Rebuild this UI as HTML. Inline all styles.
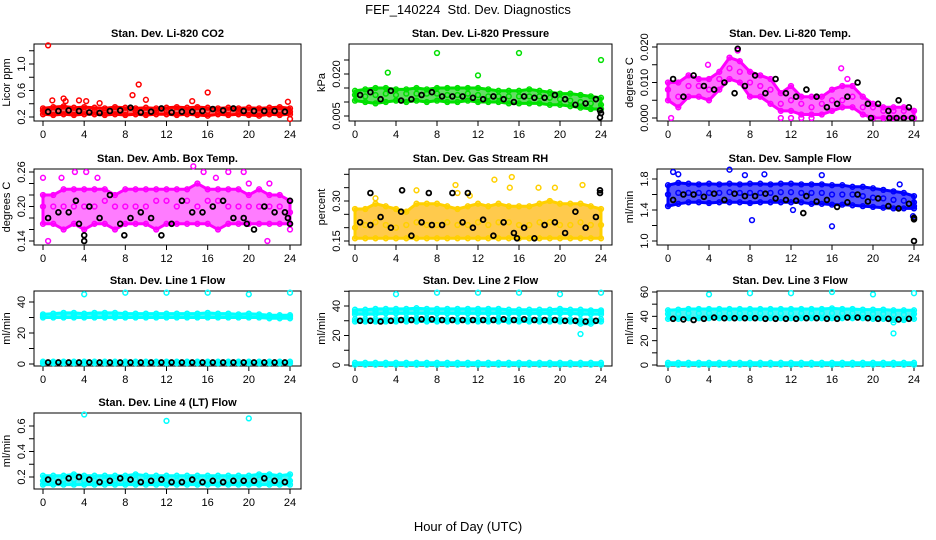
<!DOCTYPE html>
<html><head><meta charset="utf-8">
<style>
html,body{margin:0;padding:0;background:#fff;}
svg{display:block;font-family:"Liberation Sans",sans-serif;}
</style></head>
<body>
<svg id="chart" width="936" height="540" viewBox="0 0 936 540" xmlns="http://www.w3.org/2000/svg">
<rect width="936" height="540" fill="#fff"/>
<text x="468" y="14" text-anchor="middle" font-size="13" xml:space="preserve">FEF_140224  Std. Dev. Diagnostics</text>
<text x="468" y="531" text-anchor="middle" font-size="13">Hour of Day (UTC)</text>
</svg>
<script>
const hours=[0,1,2,3,4,5,6,7,8,9,10,11,12,13,14,15,16,17,18,19,20,21,22,23,24];
const blackHours=[0.5,1.5,2.5,3.5,4.5,5.5,6.5,7.5,8.5,9.5,10.5,11.5,12.5,13.5,14.5,15.5,16.5,17.5,18.5,19.5,20.5,21.5,22.5,23.5];
const xTicks=[0,4,8,12,16,20,24];

const co2Lo=[0.24,0.23,0.24,0.23,0.24,0.24,0.23,0.24,0.23,0.24,0.23,0.24,0.24,0.23,0.24,0.23,0.22,0.24,0.23,0.24,0.23,0.22,0.24,0.23,0.24];
const co2Mid=[0.29,0.28,0.30,0.29,0.28,0.29,0.30,0.29,0.28,0.29,0.28,0.29,0.30,0.29,0.28,0.29,0.29,0.28,0.29,0.28,0.29,0.28,0.29,0.30,0.28];
const co2Hi=[0.33,0.35,0.36,0.34,0.35,0.34,0.33,0.35,0.34,0.33,0.34,0.33,0.34,0.35,0.34,0.35,0.34,0.33,0.34,0.33,0.34,0.33,0.34,0.35,0.33];
const co2Black=[0.28,0.29,0.30,0.29,0.27,0.26,0.29,0.30,0.34,0.27,0.28,0.33,0.27,0.28,0.28,0.29,0.32,0.30,0.33,0.29,0.29,0.29,0.29,0.28];
const co2OutX=[0.5,0.9,2,2.2,3.5,4.2,5.5,8.7,9.3,10,14.5,16,23.8,24];
const co2OutY=[1.28,0.45,0.48,0.44,0.45,0.44,0.41,0.53,0.69,0.46,0.44,0.57,0.43,0.17];

const presLo=[0.0105,0.010,0.0095,0.010,0.0105,0.010,0.0105,0.010,0.0105,0.010,0.010,0.0105,0.010,0.010,0.010,0.0095,0.0095,0.0095,0.0095,0.009,0.009,0.0085,0.008,0.0075,0.0075];
const presMid=[0.0125,0.012,0.0125,0.013,0.0125,0.013,0.013,0.013,0.013,0.0125,0.0125,0.013,0.0125,0.012,0.012,0.012,0.012,0.012,0.012,0.0115,0.011,0.0105,0.010,0.0095,0.009];
const presHi=[0.014,0.0145,0.015,0.015,0.0145,0.0145,0.015,0.0145,0.015,0.015,0.015,0.015,0.015,0.0145,0.014,0.014,0.014,0.0145,0.014,0.0135,0.013,0.013,0.0125,0.012,0.0115];
const presBlack=[0.0125,0.0135,0.011,0.014,0.0105,0.011,0.0125,0.0135,0.012,0.012,0.012,0.0115,0.011,0.012,0.011,0.010,0.012,0.0115,0.0115,0.0125,0.011,0.009,0.0095,0.011];
const presOutX=[3.2,8,12,16,24];
const presOutY=[0.0205,0.0275,0.0195,0.0275,0.025];
const presBkOutX=[23.9,23.9,24];
const presBkOutY=[0.0045,0.007,0.006];

const ltLo=[0.005,0.003,0.006,0.006,0.005,0.008,0.011,0.010,0.006,0.006,0.004,0.002,0.002,0.001,0.001,0.001,0.002,0.003,0.003,0.001,0.000,0.000,0.000,0.000,0.000];
const ltMid=[0.008,0.006,0.009,0.009,0.008,0.011,0.014,0.013,0.010,0.009,0.008,0.004,0.005,0.004,0.003,0.004,0.005,0.005,0.006,0.003,0.003,0.002,0.002,0.002,0.002];
const ltHi=[0.010,0.010,0.012,0.011,0.011,0.013,0.017,0.016,0.013,0.012,0.011,0.007,0.009,0.006,0.006,0.006,0.008,0.009,0.009,0.006,0.004,0.003,0.003,0.003,0.002];
const ltBlack=[0.011,0.006,0.012,0.009,0.008,0.010,0.007,0.009,0.012,0.007,0.011,0.007,0.006,0.008,0.006,0.003,0.004,0.006,0.010,0.004,0.004,0.002,0.005,0.003];
const ltOutX=[0.3,3.9,6.8,11,12,13,14,16.9,17.5,20,21];
const ltOutY=[0,0.015,0.019,0,0,0,0,0.014,0.011,0,0];
const ltBkOutX=[19.8,21.6,22.3,23,23.8,6.8];
const ltBkOutY=[0,0,0,0,0,0.0195];

const amLo=[0.17,0.17,0.16,0.17,0.16,0.17,0.17,0.16,0.17,0.17,0.17,0.16,0.17,0.17,0.17,0.17,0.17,0.16,0.17,0.17,0.17,0.17,0.17,0.17,0.17];
const amMid=[0.20,0.20,0.20,0.20,0.20,0.20,0.21,0.20,0.20,0.20,0.20,0.21,0.21,0.20,0.21,0.20,0.21,0.21,0.20,0.20,0.20,0.20,0.20,0.20,0.19];
const amHi=[0.22,0.22,0.23,0.23,0.23,0.23,0.23,0.22,0.23,0.23,0.23,0.23,0.23,0.23,0.23,0.24,0.23,0.23,0.23,0.23,0.22,0.23,0.22,0.22,0.21];
const amBlack=[0.18,0.19,0.19,0.17,0.20,0.18,0.22,0.17,0.18,0.19,0.18,0.15,0.17,0.21,0.19,0.19,0.20,0.21,0.18,0.18,0.16,0.20,0.19,0.19];
const amOutX=[0,0.5,1.8,3.1,4.2,5.3,14.6,15.6,16.8,18,19.5,20,21.8,22,24];
const amOutY=[0.25,0.14,0.25,0.26,0.26,0.25,0.27,0.26,0.25,0.26,0.26,0.24,0.14,0.24,0.16];
const amBkOutX=[4,4,3.2,7.9,19.8,24,23.8,24];
const amBkOutY=[0.14,0.15,0.21,0.15,0.17,0.21,0.18,0.17];

const rhLo=[0.16,0.16,0.16,0.16,0.16,0.16,0.16,0.16,0.16,0.16,0.16,0.16,0.16,0.16,0.16,0.16,0.16,0.16,0.16,0.16,0.16,0.16,0.16,0.16,0.16];
const rhMid=[0.20,0.21,0.22,0.21,0.20,0.21,0.22,0.21,0.21,0.22,0.21,0.21,0.22,0.21,0.22,0.22,0.21,0.21,0.22,0.22,0.21,0.21,0.22,0.21,0.21];
const rhHi=[0.27,0.27,0.29,0.28,0.27,0.26,0.29,0.29,0.29,0.28,0.27,0.28,0.29,0.28,0.29,0.28,0.28,0.28,0.29,0.30,0.29,0.29,0.29,0.28,0.27];
const rhBlack=[0.22,0.21,0.24,0.20,0.26,0.17,0.22,0.21,0.21,0.33,0.22,0.20,0.23,0.17,0.22,0.18,0.20,0.16,0.21,0.22,0.18,0.26,0.20,0.24];
const rhOutX=[2,6,9.8,13.6,15.3,15.1,17.9,19.5,22.2,10,11.2];
const rhOutY=[0.31,0.34,0.36,0.38,0.39,0.35,0.35,0.35,0.36,0.33,0.32];
const rhBkOutX=[1.5,4.6,7.2,11,23.9,23.9,15.8];
const rhBkOutY=[0.33,0.34,0.33,0.33,0.34,0.33,0.16];

const sfLo=[1.45,1.48,1.50,1.50,1.49,1.50,1.50,1.50,1.49,1.50,1.50,1.50,1.50,1.50,1.48,1.48,1.47,1.47,1.46,1.45,1.44,1.43,1.42,1.42,1.42];
const sfMid=[1.60,1.62,1.62,1.62,1.62,1.62,1.63,1.62,1.62,1.62,1.62,1.63,1.63,1.62,1.62,1.62,1.60,1.60,1.60,1.58,1.56,1.55,1.53,1.52,1.50];
const sfHi=[1.72,1.75,1.74,1.73,1.74,1.73,1.74,1.73,1.74,1.74,1.73,1.74,1.74,1.73,1.73,1.73,1.72,1.72,1.70,1.70,1.68,1.66,1.64,1.62,1.58];
const sfBlack=[1.53,1.60,1.60,1.57,1.61,1.53,1.61,1.58,1.58,1.61,1.55,1.53,1.52,1.58,1.51,1.53,1.44,1.50,1.60,1.51,1.55,1.45,1.42,1.48];
const sfOutX=[0.5,1,6,7.5,8.2,9.4,12.2,15,16,22.6,24,23.9];
const sfOutY=[1.89,1.86,1.92,1.85,1.27,1.86,1.40,1.85,1.19,1.73,1.45,1.32];
const sfBkOutX=[24,24,24,13.2];
const sfBkOutY=[1.28,1.30,1.0,1.36];

const l1Lo=[30,30,30,30,30,30,30,30,30,30,30,30,30,30,30,30,30,30,30,30,30,30,29.5,29.5,29.5];
const l1Mid=[31,31,31.5,31.5,31,31.5,31.5,31.5,31,31,31,31,31,31,31,31,31,31,31,31,31,31,30.5,30.5,30.5];
const l1Hi=[32,32.5,33,33,32.5,33,33,33,32.5,32.5,32.5,32.5,32.5,32.5,32.5,32.5,33,32.5,32.5,32,32.5,32,31.5,31.5,31.5];
const l1BaseLo=[0.5,0.5,0.5,0.5,0.5,0.5,0.5,0.5,0.5,0.5,0.5,0.5,0.5,0.5,0.5,0.5,0.5,0.5,0.5,0.5,0.5,0.5,0.5,0.5,0.5];
const l1BaseHi=[1.5,1.5,1.5,1.5,1.5,1.5,1.5,1.5,1.5,1.5,1.5,1.5,1.5,1.5,1.5,1.5,1.5,1.5,1.5,1.5,1.5,1.5,1.5,1.5,1.5];
const l1Black=[1,1,1,1,1,1,1,1,1,1,1,1,1,1,1,1,1,1,1,1,1,1,1,1];
const l1OutX=[4,8,12,16,20,24];
const l1OutY=[45,46,46,46,45,46];

const l2Lo=[34.5,34.5,34.5,35,35,35,35,35,35,35,35,35,35,35,35,35,35,35,35,35,35,35,34.5,34.5,34.5];
const l2Mid=[36,36,36.5,36.5,36.5,36.5,37,36.5,36.5,36.5,36.5,36.5,36.5,36.5,36.5,36,36,36,36,36,36,36,36,36,36];
const l2Hi=[37.5,37.5,38,38,38,38,38.5,38,38,38,38,38,38,38,38,37.5,37.5,37.5,37.5,37.5,38,37.5,37.5,37,37];
const l2MidLo=[29.5,29.5,29.5,29.5,29.5,29.5,29.5,29.5,29.5,29.5,29.5,29.5,29.5,29.5,29.5,29.5,29.5,29.5,29.5,29.5,29.5,29.5,28,28,29.5];
const l2MidHi=[31,31,31,31,31,31.5,31.5,31.5,31,31,31,31,31,31,31.5,31,31,31,31,31,31,31,30.5,30.5,31];
const l2BaseLo=[0.3,0.3,0.3,0.3,0.3,0.3,0.3,0.3,0.3,0.3,0.3,0.3,0.3,0.3,0.3,0.3,0.3,0.3,0.3,0.3,0.3,0.3,0.3,0.3,0.3];
const l2BaseHi=[1.5,1.5,1.5,1.5,1.5,1.5,1.5,1.5,1.5,1.5,1.5,1.5,1.5,1.5,1.5,1.5,1.5,1.5,1.5,1.5,1.5,1.5,1.5,1.5,1.5];
const l2Black=[30,30,29.5,30,30.5,30.5,31,31,30.5,30.5,30.5,30.5,30.5,30.5,31,30.5,31,30.5,30.5,30.5,30,30,29.5,30];
const l2OutX=[4,8,12,16,20,24,22];
const l2OutY=[48,49,49,49,48,49,21];

const l3Lo=[38,38,38.5,38.5,38.5,38.5,38.5,38.5,38.5,38.5,38.5,38.5,38.5,38.5,38.5,38.5,38.5,38.5,38.5,38.5,38,38,37,37,38];
const l3Mid=[42,42,42.5,42.5,42.5,42.5,42.5,42.5,42.5,42.5,42.5,42.5,42.5,42.5,42.5,42.5,42.5,42.5,42.5,42,42,42,41.5,41.5,42];
const l3Hi=[45,45.5,46,46,46,46,46,46,46,46,46,46,46,46,46,46,46.5,46,46,45.5,45.5,45.5,45,45,45];
const l3BaseLo=[0.3,0.3,0.3,0.3,0.3,0.3,0.3,0.3,0.3,0.3,0.3,0.3,0.3,0.3,0.3,0.3,0.3,0.3,0.3,0.3,0.3,0.3,0.3,0.3,0.3];
const l3BaseHi=[1.8,1.8,1.8,1.8,1.8,1.8,1.8,1.8,1.8,1.8,1.8,1.8,1.8,1.8,1.8,1.8,1.8,1.8,1.8,1.8,1.8,1.8,1.8,1.8,1.8];
const l3Black=[38,37.5,37,38,39,38.5,38.5,38.5,38.5,38,38,38,38,38.5,38.5,38,38,39,39,38.5,38,38,37.5,38];
const l3OutX=[4,8,12,16,20,24,22,22];
const l3OutY=[58,59,59,60,58,59,26,35];

const l4Lo=[0.14,0.14,0.14,0.14,0.14,0.14,0.14,0.14,0.14,0.14,0.14,0.14,0.14,0.14,0.14,0.14,0.14,0.14,0.14,0.14,0.14,0.14,0.14,0.14,0.14];
const l4Mid=[0.17,0.17,0.18,0.18,0.17,0.17,0.18,0.17,0.17,0.18,0.17,0.17,0.17,0.17,0.17,0.17,0.17,0.17,0.17,0.17,0.17,0.18,0.18,0.17,0.17];
const l4Hi=[0.21,0.21,0.21,0.22,0.21,0.21,0.21,0.21,0.21,0.22,0.21,0.21,0.21,0.21,0.21,0.21,0.21,0.21,0.21,0.21,0.21,0.22,0.22,0.21,0.22];
const l4Black=[0.18,0.16,0.19,0.20,0.18,0.16,0.17,0.19,0.18,0.16,0.17,0.18,0.16,0.16,0.18,0.16,0.17,0.16,0.17,0.17,0.17,0.19,0.17,0.16];
const l4OutX=[4,12,20];
const l4OutY=[0.69,0.64,0.66];

const cols=[{l:34,r:301,x0:43,x24:290},{l:349,r:612,x0:355,x24:601},{l:657,r:923,x0:668,x24:914}];
const rows=[{t:44,b:121},{t:169,b:245},{t:291,b:366},{t:413,b:489}];

const panels=[
 {id:'co2',title:'Stan. Dev. Li-820 CO2',ylab:'Licor ppm',c:0,r:0,ref:[0.2,117,1.0,64],ticks:[0.2,0.4,0.6,0.8,1.0,1.2],labs:['0.2','0.6','1.0'],color:'#ff0000',fill:'#ff2020',bands:[[co2Lo,co2Mid,co2Hi]],black:co2Black,ox:co2OutX,oy:co2OutY},
 {id:'pressure',title:'Stan. Dev. Li-820 Pressure',ylab:'kPa',c:1,r:0,ref:[0.005,116,0.020,74],ticks:[0.005,0.010,0.015,0.020,0.025],labs:['0.005','0.020'],color:'#00e000',fill:'#22d022',bands:[[presLo,presMid,presHi]],black:presBlack,ox:presOutX,oy:presOutY,bx:presBkOutX,by:presBkOutY},
 {id:'li-temp',title:'Stan. Dev. Li-820 Temp.',ylab:'degrees C',c:2,r:0,ref:[0,118,0.020,47],ticks:[0,0.005,0.010,0.015,0.020],labs:['0.000','0.010','0.020'],color:'#ff00ff',fill:'#ff33ff',bands:[[ltLo,ltMid,ltHi]],black:ltBlack,ox:ltOutX,oy:ltOutY,bx:ltBkOutX,by:ltBkOutY},
 {id:'amb-temp',title:'Stan. Dev. Amb. Box Temp.',ylab:'degrees C',c:0,r:1,ref:[0.14,241,0.26,172],ticks:[0.14,0.16,0.18,0.20,0.22,0.24,0.26],labs:['0.14','0.20','0.26'],color:'#ff00ff',fill:'#ff44ff',bands:[[amLo,amMid,amHi]],black:amBlack,ox:amOutX,oy:amOutY,bx:amBkOutX,by:amBkOutY},
 {id:'gas-rh',title:'Stan. Dev. Gas Stream RH',ylab:'percent',c:1,r:1,ref:[0.15,241,0.30,201],ticks:[0.15,0.20,0.25,0.30,0.35,0.40],labs:['0.15','0.30'],color:'#ffd000',fill:'#ffb400',bands:[[rhLo,rhMid,rhHi]],black:rhBlack,ox:rhOutX,oy:rhOutY,bx:rhBkOutX,by:rhBkOutY},
 {id:'sample-flow',title:'Stan. Dev. Sample Flow',ylab:'ml/min',c:2,r:1,ref:[1.0,241,1.8,179],ticks:[1.0,1.2,1.4,1.6,1.8],labs:['1.0','1.4','1.8'],color:'#0000ff',fill:'#1010ff',bands:[[sfLo,sfMid,sfHi]],black:sfBlack,ox:sfOutX,oy:sfOutY,bx:sfBkOutX,by:sfBkOutY},
 {id:'line1-flow',title:'Stan. Dev. Line 1 Flow',ylab:'ml/min',c:0,r:2,ref:[0,364,40,302],ticks:[0,10,20,30,40],labs:['0','20','40'],color:'#00ffff',fill:'#00f0f0',bands:[[l1Lo,l1Mid,l1Hi],[l1BaseLo,null,l1BaseHi]],black:l1Black,ox:l1OutX,oy:l1OutY},
 {id:'line2-flow',title:'Stan. Dev. Line 2 Flow',ylab:'ml/min',c:1,r:2,ref:[0,365,40,306],ticks:[0,10,20,30,40,50],labs:['0','20','40'],color:'#00ffff',fill:'#00f0f0',bands:[[l2Lo,l2Mid,l2Hi],[l2MidLo,null,l2MidHi],[l2BaseLo,null,l2BaseHi]],black:l2Black,ox:l2OutX,oy:l2OutY},
 {id:'line3-flow',title:'Stan. Dev. Line 3 Flow',ylab:'ml/min',c:2,r:2,ref:[0,365,60,292],ticks:[0,10,20,30,40,50,60],labs:['0','20','40','60'],color:'#00ffff',fill:'#00f0f0',bands:[[l3Lo,l3Mid,l3Hi],[l3BaseLo,null,l3BaseHi]],black:l3Black,ox:l3OutX,oy:l3OutY},
 {id:'line4-flow',title:'Stan. Dev. Line 4 (LT) Flow',ylab:'ml/min',c:0,r:3,ref:[0.2,477,0.6,426],ticks:[0.2,0.3,0.4,0.5,0.6],labs:['0.2','0.4','0.6'],color:'#00ffff',fill:'#00f0f0',bands:[[l4Lo,l4Mid,l4Hi]],black:l4Black,ox:l4OutX,oy:l4OutY}
];

const NS='http://www.w3.org/2000/svg';
const svg=document.getElementById('chart');
function mk(tag,attrs,parent){const e=document.createElementNS(NS,tag);for(const k in attrs)e.setAttribute(k,attrs[k]);(parent||svg).appendChild(e);return e;}
function circle(g,x,y,color,w){
  const c=mk('circle',{cx:x.toFixed(1),cy:y.toFixed(1),r:2.4,fill:'none',stroke:color,'stroke-width':w||1.5},g);
  
  
}
panels.forEach(p=>{
  const col=cols[p.c],row=rows[p.r];
  const xs=h=>col.x0+(h/24)*(col.x24-col.x0);
  const sc=(p.ref[3]-p.ref[1])/(p.ref[2]-p.ref[0]);
  const ys=v=>p.ref[1]+(v-p.ref[0])*sc;
  const g=mk('g',{});
  
  
  const cx=(col.l+col.r)/2;
  const t=mk('text',{x:cx,y:row.t-7,'text-anchor':'middle','font-size':11,'font-weight':'bold'},g);
  t.textContent=p.title;
  
  
  const yl=mk('text',{x:0,y:0,transform:`translate(${col.l-24},${(row.t+row.b)/2}) rotate(-90)`,'text-anchor':'middle','font-size':11},g);
  yl.textContent=p.ylab;
  
  
  const xa=mk('g',{},g);
  
  
  mk('line',{x1:xs(0),x2:xs(24),y1:row.b,y2:row.b,stroke:'#000'},xa);
  xTicks.forEach(h=>{
    mk('line',{x1:xs(h),x2:xs(h),y1:row.b,y2:row.b+5,stroke:'#000'},xa);
    const tl=mk('text',{x:xs(h),y:row.b+17,'text-anchor':'middle','font-size':11},xa);
    tl.textContent=String(h);
    
    
  });
  const ya=mk('g',{},g);
  
  
  mk('line',{x1:col.l,x2:col.l,y1:ys(p.ticks[0]),y2:ys(p.ticks[p.ticks.length-1]),stroke:'#000'},ya);
  p.ticks.forEach(v=>mk('line',{x1:col.l-5,x2:col.l,y1:ys(v),y2:ys(v),stroke:'#000'},ya));
  p.labs.forEach(s=>{
    const v=parseFloat(s);
    const tl=mk('text',{x:0,y:0,transform:`translate(${col.l-9},${ys(v)}) rotate(-90)`,'text-anchor':'middle','font-size':11},ya);
    tl.textContent=s;
    
    
  });
  const bx=mk('rect',{x:col.l,y:row.t,width:col.r-col.l,height:row.b-row.t,fill:'none',stroke:'#000'},g);
  
  
  p.bands.forEach(b=>{
    const [lo,mid,hi]=b;
    let d='M'+hours.map((h,i)=>xs(h).toFixed(1)+','+ys(hi[i]).toFixed(1)).join(' L');
    d+=' L'+hours.slice().reverse().map((h,k)=>{const i=hours.length-1-k;return xs(h).toFixed(1)+','+ys(lo[i]).toFixed(1);}).join(' L')+' Z';
    const band=mk('path',{d:d,fill:p.fill,'fill-opacity':0.7,stroke:p.color,'stroke-width':3,'stroke-linejoin':'round'},g);
    
    
    hours.forEach((h,i)=>{
      circle(g,xs(h),ys(lo[i]),p.color);
      circle(g,xs(h),ys(hi[i]),p.color);
      if(mid)circle(g,xs(h),ys(mid[i]),p.color);
    });
  });
  p.ox.forEach((h,i)=>circle(g,xs(h),ys(p.oy[i]),p.color));
  blackHours.forEach((h,i)=>circle(g,xs(h),ys(p.black[i]),'#000',1.8));
  if(p.bx)p.bx.forEach((h,i)=>circle(g,xs(h),ys(p.by[i]),'#000',1.8));
});
</script>
</body></html>
